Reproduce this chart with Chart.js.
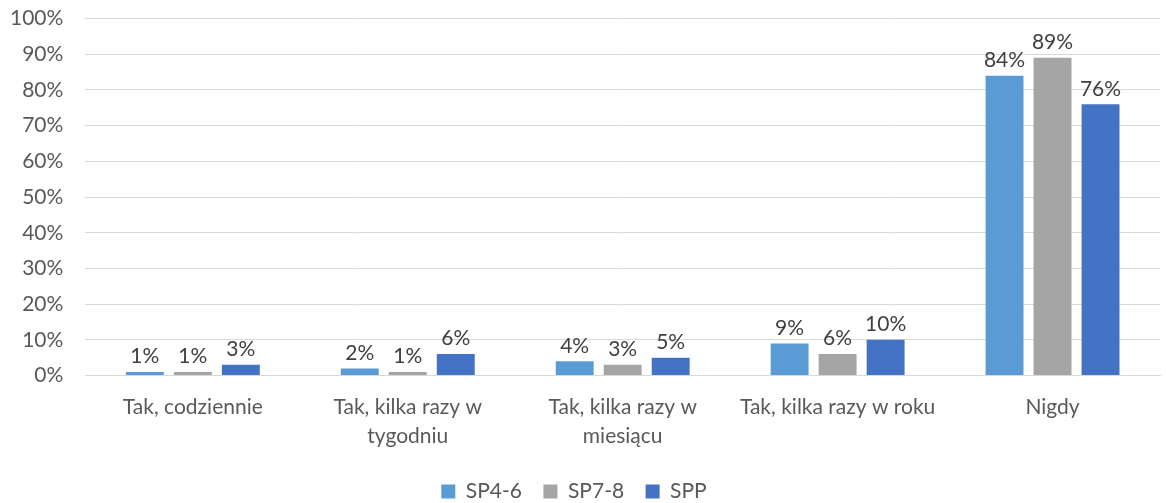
<!DOCTYPE html>
<html>
<head>
<meta charset="utf-8">
<script src="https://cdn.jsdelivr.net/npm/chart.js@4/dist/chart.umd.min.js"></script>
<style>
  html, body { margin: 0; padding: 0; background: #fff; overflow: hidden; }
  #frame { width: 1166px; height: 503px; position: relative; overflow: hidden; }
  #wrap { position: absolute; left: 0; top: -16px; width: 1166px; height: 530px; }
</style>
</head>
<body>
<div id="frame"><div id="wrap"><canvas id="chart"></canvas></div></div>
<script>
// Data
const categories = [
    'Tak, codziennie',
    ['Tak, kilka razy w', 'tygodniu'],
    ['Tak, kilka razy w', 'miesiącu'],
    'Tak, kilka razy w roku',
    'Nigdy'
];
const sp46 = [1, 2, 4, 9, 84];
const sp78 = [1, 1, 3, 6, 89];
const spp = [3, 6, 5, 10, 76];
const yTicks = [0, 10, 20, 30, 40, 50, 60, 70, 80, 90, 100];

const FONT = 'Lato, "Open Sans", sans-serif';
const FS = 21;

// value labels above bars
const valueLabels = {
    id: 'valueLabels',
    afterDatasetsDraw(chart) {
        const ctx = chart.ctx;
        ctx.save();
        ctx.font = FS + 'px ' + FONT;
        ctx.fillStyle = '#404040';
        ctx.textAlign = 'center';
        ctx.textBaseline = 'bottom';
        chart.data.datasets.forEach((ds, i) => {
            chart.getDatasetMeta(i).data.forEach((bar, j) => {
                ctx.fillText(ds.data[j] + '%', bar.x, bar.y - 5);
            });
        });
        ctx.restore();
    }
};

new Chart(document.getElementById('chart'), {
    type: 'bar',
    data: {
        labels: categories,
        datasets: [
            { label: 'SP4-6', data: sp46, backgroundColor: '#5b9bd5' },
            { label: 'SP7-8', data: sp78, backgroundColor: '#a5a5a5' },
            { label: 'SPP', data: spp, backgroundColor: '#4472c4' }
        ]
    },
    options: {
        responsive: true,
        maintainAspectRatio: false,
        animation: false,
        categoryPercentage: 0.67,
        barPercentage: 0.79,
        layout: { padding: { top: 0, right: 6, left: -12, bottom: 2 } },
        scales: {
            x: {
                grid: { display: false },
                border: { color: '#d9d9d9', width: 1 },
                ticks: {
                    color: '#595959',
                    font: { family: FONT, size: FS, lineHeight: 1.38 },
                    maxRotation: 0,
                    autoSkip: false,
                    padding: 9
                }
            },
            y: {
                min: 0,
                max: 100,
                afterBuildTicks(axis) {
                    axis.ticks = yTicks.map(v => ({ value: v }));
                },
                grid: { color: '#d9d9d9', drawTicks: false },
                border: { display: false },
                ticks: {
                    color: '#595959',
                    font: { family: FONT, size: FS },
                    padding: 22,
                    callback: v => v + '%'
                }
            }
        },
        plugins: {
            legend: {
                position: 'bottom',
                labels: {
                    color: '#595959',
                    font: { family: FONT, size: FS },
                    boxWidth: 14,
                    boxHeight: 14,
                    padding: 21.5
                }
            },
            tooltip: { enabled: false }
        }
    },
    plugins: [valueLabels]
});
</script>
</body>
</html>
